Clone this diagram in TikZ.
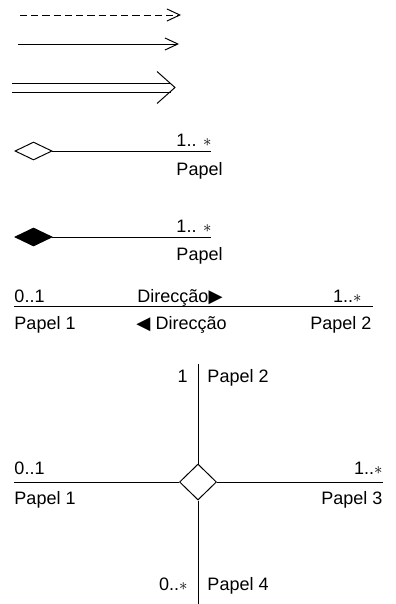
\documentclass[tikz,border=0pt]{standalone}
\usepackage{fontspec}
\setmainfont{Liberation Sans}
\newfontfamily\symfont{DejaVu Sans}
\usetikzlibrary{%
	calc,%
	arrows.meta,%
	shapes.geometric,%
}
\tikzset{
	>={Straight Barb[length=9.2pt, width=8.6pt]},
	nodes={align=center},
}
\newcommand{\dirr}{{\symfont\fontsize{13}{10}\selectfont ▶}}
\newcommand{\dirl}{{\symfont\fontsize{13}{10}\selectfont ◀}}
\begin{document}
\begin{tikzpicture}[x=0.025cm, y=-0.025cm, line width=0.7pt,%
		lbl/.style={inner sep=0pt, font=\fontsize{12.8}{14}\selectfont},%
		hollow/.style={diamond, draw, fill=white, inner sep=0pt, minimum width=0.925cm, minimum height=0.45cm},%
		compo/.style={diamond, draw, fill=black, inner sep=0pt, minimum width=0.925cm, minimum height=0.45cm},%
		nary/.style={diamond, draw, fill=white, inner sep=0pt, minimum width=0.925cm, minimum height=0.9cm}]
	\useasboundingbox (0,0) rectangle (395,604);

	% arrows
	\coordinate (dep tail) at (20,15);
	\coordinate (dep head) at (181,15);
	\draw[->, dash pattern=on 5pt off 3pt] (dep tail) -- (dep head);

	\coordinate (nav tail) at (18,44);
	\coordinate (nav head) at (179,44);
	\draw[->] (nav tail) -- (nav head);

	\coordinate (ref tail) at (12,87.5);
	\coordinate (ref head) at (175,87.5);
	\draw ($(ref tail)+(0,-4.5)$) -- ($(ref head)+(-4,-4.5)$);
	\draw ($(ref tail)+(0,4.5)$) -- ($(ref head)+(-4,4.5)$);
	\draw[line join=miter] ($(ref head)+(-18,-16)$) -- (ref head) -- ($(ref head)+(-18,16)$);

	% aggregation and composition
	\node[hollow] (agg) at (33.5,151) {};
	\coordinate (agg end) at (211,151);
	\draw (agg.east) -- (agg end);
	\node[lbl, anchor=base west] (agg mult) at (176,146.5) {1.. $\ast$};
	\node[lbl, anchor=base west] (agg role) at (176,175) {Papel};

	\node[compo] (comp) at (33.5,237) {};
	\coordinate (comp end) at (211,237);
	\draw (comp.east) -- (comp end);
	\node[lbl, anchor=base west] (comp mult) at (176,232) {1.. $\ast$};
	\node[lbl, anchor=base west] (comp role) at (176,260) {Papel};

	% binary association
	\coordinate (as left) at (14,306);
	\coordinate (as right) at (373,306);
	\draw (as left) -- (as right);
	\node[lbl, anchor=base west] (as mult1) at (14,302) {0..1};
	\node[lbl, anchor=base west] (as dir1) at (137,302) {Direcção\dirr};
	\node[lbl, anchor=base east] (as mult2) at (362,302) {1..$\ast$};
	\node[lbl, anchor=base west] (as role1) at (14,329) {Papel 1};
	\node[lbl, anchor=base west] (as dir2) at (136,329) {\dirl\ Direcção};
	\node[lbl, anchor=base east] (as role2) at (372,329) {Papel 2};

	% n-ary association
	\node[nary] (hub) at (198,482) {};
	\coordinate (n top) at (198,364);
	\coordinate (n bottom) at (198,604);
	\coordinate (n left) at (14,482);
	\coordinate (n right) at (383,482);
	\draw (hub.north) -- (n top);
	\draw (hub.south) -- (n bottom);
	\draw (hub.west) -- (n left);
	\draw (hub.east) -- (n right);

	\node[lbl, anchor=base east] (n mult2) at (188,382) {1};
	\node[lbl, anchor=base west] (n role2) at (207,382) {Papel 2};
	\node[lbl, anchor=base west] (n mult1) at (14,474) {0..1};
	\node[lbl, anchor=base west] (n role1) at (14,504) {Papel 1};
	\node[lbl, anchor=base east] (n mult3) at (383,474) {1..$\ast$};
	\node[lbl, anchor=base east] (n role3) at (383,504) {Papel 3};
	\node[lbl, anchor=base east] (n mult4) at (188,590) {0..$\ast$};
	\node[lbl, anchor=base west] (n role4) at (207,590) {Papel 4};
\end{tikzpicture}
\end{document}
